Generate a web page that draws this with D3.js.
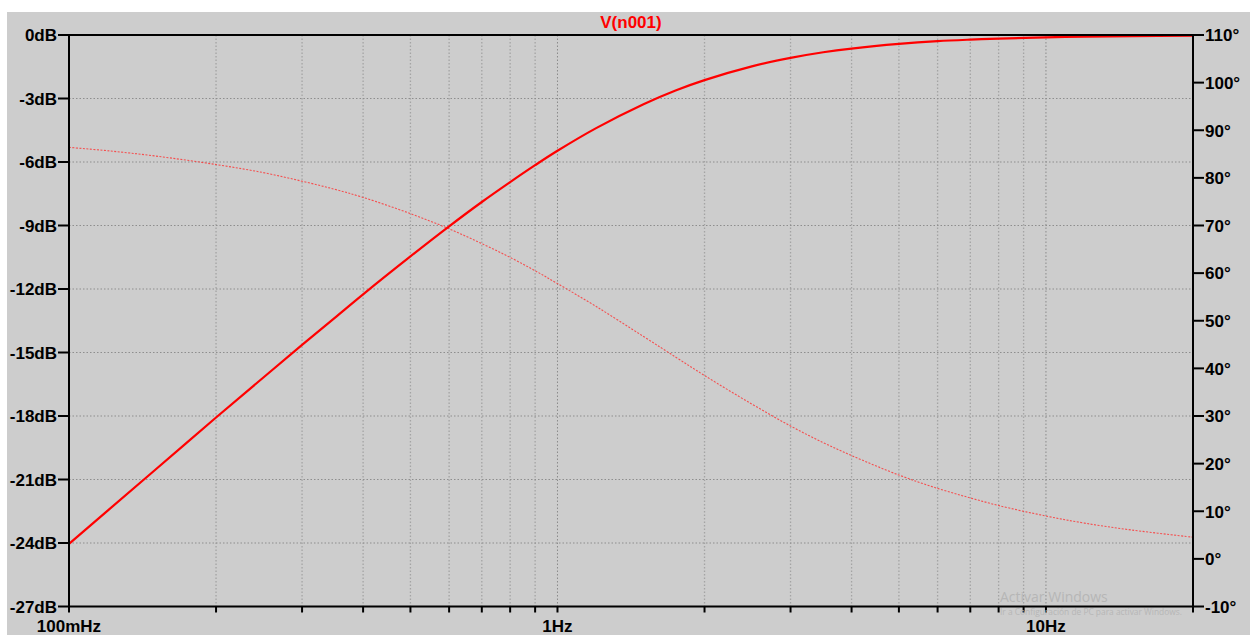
<!DOCTYPE html>
<html><head><meta charset="utf-8">
<script src="https://cdn.jsdelivr.net/npm/d3@7"></script>
<style>html,body{margin:0;padding:0;background:#fff;}svg{display:block;}</style>
</head><body>
<script>
// ---- data ----
const freqs = [0.1,0.12,0.15,0.2,0.25,0.3,0.35,0.4,0.5,0.6,0.7,0.8,0.9,1.0,1.2,1.5,1.75,2.0,2.5,3.0,3.5,4.0,5.0,6.0,7.0,8.0,10,12,15,20];
const magDb = [-24.04,-22.47,-20.55,-18.07,-16.18,-14.64,-13.36,-12.25,-10.46,-9.04,-7.89,-6.95,-6.15,-5.47,-4.40,-3.27,-2.61,-2.13,-1.48,-1.08,-0.815,-0.64,-0.42,-0.29,-0.218,-0.17,-0.11,-0.076,-0.049,-0.027];
const phaseDeg = [86.4,85.7,84.6,82.8,81.1,79.3,77.6,75.9,72.5,69.3,66.2,63.3,60.5,57.8,53.0,46.7,42.3,38.5,32.5,27.9,24.4,21.7,17.6,14.8,12.8,11.2,9.0,7.5,6.05,4.55];
const dbTicks = [0,-3,-6,-9,-12,-15,-18,-21,-24,-27];
const degTicks = [110,100,90,80,70,60,50,40,30,20,10,0,-10];
const freqGrid = [0.1,0.2,0.3,0.4,0.5,0.6,0.7,0.8,0.9,1,2,3,4,5,6,7,8,9,10,20];
const freqLabels = [{f:0.1,t:"100mHz"},{f:1,t:"1Hz"},{f:10,t:"10Hz"}];
const title = "V(n001)";

const W=1250,H=635;
const L=69,R=1193,T=35,B=606.5;
const svg=d3.select("body").append("svg").attr("width",W).attr("height",H);
svg.append("rect").attr("x",7).attr("y",12).attr("width",W-7).attr("height",H-12).attr("fill","#cdcdcd");

const x=d3.scaleLog().domain([0.1,20]).range([L,R]);
const yDb=d3.scaleLinear().domain([-27,0]).range([B,T]);
const yDeg=d3.scaleLinear().domain([-10,110]).range([B,T]);

const font="'Liberation Sans', Arial, sans-serif";
// grid
const g=svg.append("g");
g.selectAll("line.v").data(freqGrid.filter(f=>f>0.1&&f<20)).join("line")
 .attr("x1",d=>x(d)).attr("x2",d=>x(d)).attr("y1",T).attr("y2",B)
 .attr("stroke",d=>(d===1||d===10)?"#8a8a8a":"#a4a4a4").attr("stroke-width",d=>(d===1||d===10)?1:1.3)
 .attr("stroke-dasharray","1.5,2");
g.selectAll("line.h").data(dbTicks.filter(d=>d<0&&d>-27)).join("line")
 .attr("x1",L).attr("x2",R).attr("y1",d=>yDb(d)).attr("y2",d=>yDb(d))
 .attr("stroke","#8e8e8e").attr("stroke-width",1.2).attr("stroke-dasharray","1.5,2");

// curves
const pts=freqs.map((f,i)=>({f,m:magDb[i],p:phaseDeg[i]}));
svg.append("path").datum(pts)
 .attr("d",d3.line().x(d=>x(d.f)).y(d=>yDeg(d.p)).curve(d3.curveCatmullRom))
 .attr("fill","none").attr("stroke","#ff3030").attr("stroke-opacity",0.8).attr("stroke-width",1.1).attr("stroke-dasharray","2,1.5");
svg.append("path").datum(pts)
 .attr("d",d3.line().x(d=>x(d.f)).y(d=>yDb(d.m)).curve(d3.curveCatmullRom))
 .attr("fill","none").attr("stroke","#ff0000").attr("stroke-width",2.2);

// frame
const fr=svg.append("g").attr("stroke","#000").attr("stroke-width",2);
fr.append("line").attr("x1",L).attr("x2",R).attr("y1",T).attr("y2",T);
fr.append("line").attr("x1",L).attr("x2",R).attr("y1",B).attr("y2",B);
fr.append("line").attr("x1",L).attr("x2",L).attr("y1",T).attr("y2",B);
fr.append("line").attr("x1",R).attr("x2",R).attr("y1",T).attr("y2",B);

// left axis
const la=svg.append("g");
la.selectAll("line").data(dbTicks).join("line").attr("x1",L-11).attr("x2",L).attr("y1",d=>yDb(d)).attr("y2",d=>yDb(d)).attr("stroke","#000").attr("stroke-width",2);
la.selectAll("text").data(dbTicks).join("text").attr("x",L-12).attr("y",d=>yDb(d)+6.3).attr("text-anchor","end")
 .attr("font-family",font).attr("font-weight","bold").attr("font-size",17).attr("fill","#000").text(d=>d+"dB");
// right axis
const ra=svg.append("g");
ra.selectAll("line").data(degTicks).join("line").attr("x1",R).attr("x2",R+11).attr("y1",d=>yDeg(d)).attr("y2",d=>yDeg(d)).attr("stroke","#000").attr("stroke-width",2);
ra.selectAll("text").data(degTicks).join("text").attr("x",R+12).attr("y",d=>yDeg(d)+6.3).attr("text-anchor","start")
 .attr("font-family",font).attr("font-weight","bold").attr("font-size",17).attr("fill","#000").text(d=>d+"°");
// bottom axis
const ba=svg.append("g");
ba.selectAll("line").data(freqGrid).join("line").attr("x1",d=>x(d)).attr("x2",d=>x(d)).attr("y1",B).attr("y2",B+6).attr("stroke","#000").attr("stroke-width",2);
ba.selectAll("text").data(freqLabels).join("text").attr("x",d=>x(d.f)).attr("y",632).attr("text-anchor","middle")
 .attr("font-family",font).attr("font-weight","bold").attr("font-size",17).attr("fill","#000").text(d=>d.t);

// title
svg.append("text").attr("x",631).attr("y",28).attr("text-anchor","middle").attr("font-family",font).attr("font-weight","bold")
 .attr("font-size",17).attr("fill","#ff0000").text(title);

// OS watermark
svg.append("text").attr("x",1000).attr("y",602).attr("font-family","'Open Sans', sans-serif").attr("font-size",14).attr("fill","#b6b6b6").text("Activar Windows");
svg.append("text").attr("x",1000).attr("y",615).attr("font-family","'Open Sans', sans-serif").attr("font-size",8.4).attr("fill","#b6b6b6").text("Ir a Configuración de PC para activar Windows.");
</script>
</body></html>
